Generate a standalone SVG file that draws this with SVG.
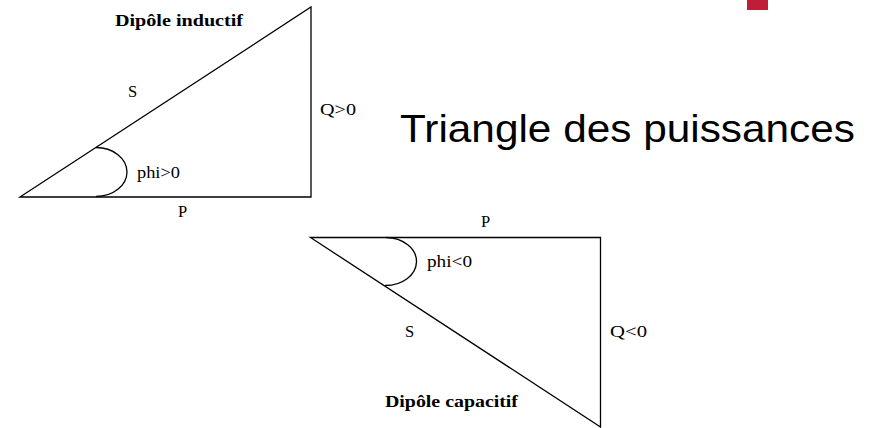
<svg xmlns="http://www.w3.org/2000/svg" width="881" height="428" viewBox="0 0 881 428">
<style>
.edge{fill:none;stroke:#000;stroke-width:1.3;stroke-linejoin:miter}
.lbl{font-family:"Liberation Serif","Times New Roman",serif;font-size:16.5px;fill:#000}
.ttl{font-family:"Liberation Serif","Times New Roman",serif;font-size:17px;font-weight:bold;fill:#000}
.title{font-family:"Liberation Sans",Arial,sans-serif;font-size:39px;fill:#000}
</style>
<rect width="881" height="428" fill="#fff"/>
<rect id="accent" x="747" y="0" width="21" height="10" fill="#BE1E37"/>
<text id="title" class="title" x="400" y="142" textLength="455" lengthAdjust="spacingAndGlyphs">Triangle des puissances</text>
<g id="connectors">
  <g id="triangle-inductif">
    <path class="edge" d="M20,197 L311,7 L311,197 Z"/>
    <path class="edge" d="M96,147.5 A31,24.5 0 0 1 96,196.5"/>
  </g>
  <g id="triangle-capacitif">
    <path class="edge" d="M310.5,237.5 L600.5,237.5 L600.5,427 Z"/>
    <path class="edge" d="M386,237.5 A31,24 0 0 1 385,285.5"/>
  </g>
</g>
<g id="node-inductif">
  <text class="ttl" x="115" y="26" textLength="128" lengthAdjust="spacingAndGlyphs">Dipôle inductif</text>
  <text class="lbl" x="128" y="96.5">S</text>
  <text class="lbl" x="320" y="115" textLength="36" lengthAdjust="spacingAndGlyphs">Q&gt;0</text>
  <text class="lbl" x="137" y="177.5" textLength="43" lengthAdjust="spacingAndGlyphs">phi&gt;0</text>
  <text class="lbl" x="178" y="217">P</text>
</g>
<g id="node-capacitif">
  <text class="lbl" x="481" y="227">P</text>
  <text class="lbl" x="427" y="267" textLength="45" lengthAdjust="spacingAndGlyphs">phi&lt;0</text>
  <text class="lbl" x="405" y="336.5">S</text>
  <text class="lbl" x="610" y="337" textLength="37" lengthAdjust="spacingAndGlyphs">Q&lt;0</text>
  <text class="ttl" x="385" y="407" textLength="133" lengthAdjust="spacingAndGlyphs">Dipôle capacitif</text>
</g>
</svg>
